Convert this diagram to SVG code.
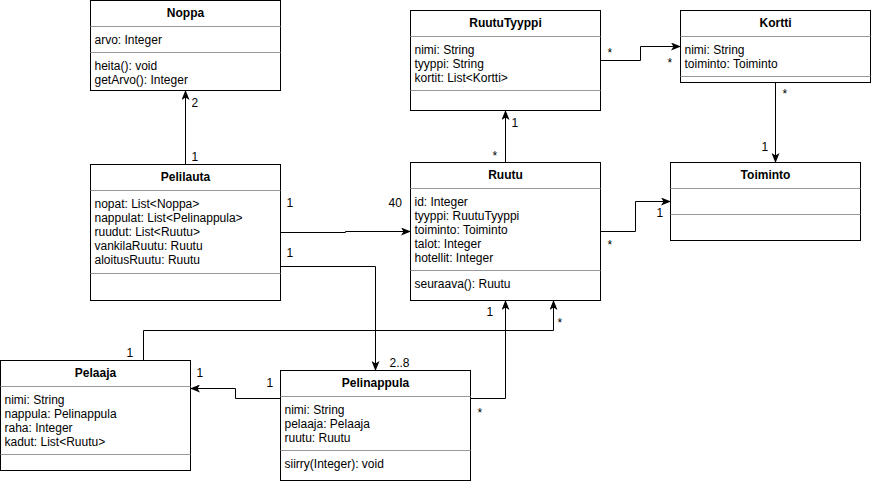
<svg xmlns="http://www.w3.org/2000/svg" width="871" height="481" viewBox="0 0 871 481">
<defs>
<style>
.box{fill:#fff;stroke:#000;stroke-width:1}
.div{stroke:#999;stroke-width:1}
.t{font-family:"Liberation Sans",Arial,sans-serif;font-size:12px;fill:#000}
.h{font-family:"Liberation Sans",Arial,sans-serif;font-size:12px;font-weight:bold;fill:#000;text-anchor:middle}
.c{fill:none;stroke:#000;stroke-width:1}
</style>
<marker id="arr" markerUnits="userSpaceOnUse" markerWidth="10" markerHeight="8" viewBox="0 0 10 8" refX="9.5" refY="4" orient="auto">
<path d="M0,0 L10,4 L0,8 L2.5,4 Z" fill="#000"/>
</marker>
</defs>
<rect width="871" height="481" fill="#fff"/>
<g transform="translate(0.5,0.5)">
<g id="Noppa">
<rect class="box" x="90" y="0" width="190" height="90"/>
<line class="div" x1="90" y1="26" x2="280" y2="26"/>
<line class="div" x1="90" y1="52" x2="280" y2="52"/>
<text class="h" x="185" y="16">Noppa</text>
<text class="t" x="94" y="43">arvo: Integer</text>
<text class="t" x="94" y="69.5">heita(): void</text>
<text class="t" x="94" y="83.5">getArvo(): Integer</text>
</g>
<g id="Pelilauta">
<rect class="box" x="90" y="164" width="190" height="136"/>
<line class="div" x1="90" y1="190" x2="280" y2="190"/>
<line class="div" x1="90" y1="273" x2="280" y2="273"/>
<text class="h" x="185" y="180">Pelilauta</text>
<text class="t" x="94" y="207">nopat: List&lt;Noppa&gt;</text>
<text class="t" x="94" y="221">nappulat: List&lt;Pelinappula&gt;</text>
<text class="t" x="94" y="235">ruudut: List&lt;Ruutu&gt;</text>
<text class="t" x="94" y="249">vankilaRuutu: Ruutu</text>
<text class="t" x="94" y="263">aloitusRuutu: Ruutu</text>
</g>
<g id="RuutuTyyppi">
<rect class="box" x="410" y="10" width="190" height="100"/>
<line class="div" x1="410" y1="36" x2="600" y2="36"/>
<line class="div" x1="410" y1="90" x2="600" y2="90"/>
<text class="h" x="505" y="26">RuutuTyyppi</text>
<text class="t" x="414" y="53">nimi: String</text>
<text class="t" x="414" y="67">tyyppi: String</text>
<text class="t" x="414" y="81">kortit: List&lt;Kortti&gt;</text>
</g>
<g id="Kortti">
<rect class="box" x="680" y="10" width="190" height="72"/>
<line class="div" x1="680" y1="36" x2="870" y2="36"/>
<line class="div" x1="680" y1="76" x2="870" y2="76"/>
<text class="h" x="775" y="26">Kortti</text>
<text class="t" x="684" y="53">nimi: String</text>
<text class="t" x="684" y="67">toiminto: Toiminto</text>
</g>
<g id="Ruutu">
<rect class="box" x="410" y="162" width="190" height="138"/>
<line class="div" x1="410" y1="188" x2="600" y2="188"/>
<line class="div" x1="410" y1="270" x2="600" y2="270"/>
<text class="h" x="505" y="178">Ruutu</text>
<text class="t" x="414" y="205">id: Integer</text>
<text class="t" x="414" y="219">tyyppi: RuutuTyyppi</text>
<text class="t" x="414" y="233">toiminto: Toiminto</text>
<text class="t" x="414" y="247">talot: Integer</text>
<text class="t" x="414" y="261">hotellit: Integer</text>
<text class="t" x="414" y="287">seuraava(): Ruutu</text>
</g>
<g id="Toiminto">
<rect class="box" x="670" y="162" width="190" height="78"/>
<line class="div" x1="670" y1="188" x2="860" y2="188"/>
<line class="div" x1="670" y1="214" x2="860" y2="214"/>
<text class="h" x="765" y="178">Toiminto</text>
</g>
<g id="Pelaaja">
<rect class="box" x="0" y="360" width="190" height="110"/>
<line class="div" x1="0" y1="386" x2="190" y2="386"/>
<line class="div" x1="0" y1="454" x2="190" y2="454"/>
<text class="h" x="95" y="376">Pelaaja</text>
<text class="t" x="4" y="403">nimi: String</text>
<text class="t" x="4" y="417">nappula: Pelinappula</text>
<text class="t" x="4" y="431">raha: Integer</text>
<text class="t" x="4" y="445">kadut: List&lt;Ruutu&gt;</text>
</g>
<g id="Pelinappula">
<rect class="box" x="280" y="370" width="190" height="110"/>
<line class="div" x1="280" y1="396" x2="470" y2="396"/>
<line class="div" x1="280" y1="450" x2="470" y2="450"/>
<text class="h" x="375" y="386">Pelinappula</text>
<text class="t" x="284" y="413">nimi: String</text>
<text class="t" x="284" y="427">pelaaja: Pelaaja</text>
<text class="t" x="284" y="441">ruutu: Ruutu</text>
<text class="t" x="284" y="467">siirry(Integer): void</text>
</g>
<g id="connectors">
<path class="c" marker-end="url(#arr)" d="M185,164 L185,90"/>
<path class="c" marker-end="url(#arr)" d="M280,232 L345,232 L345,231 L410,231"/>
<path class="c" marker-end="url(#arr)" d="M280,266 L375,266 L375,370"/>
<path class="c" marker-end="url(#arr)" d="M600,60 L640,60 L640,46 L680,46"/>
<path class="c" marker-end="url(#arr)" d="M775,82 L775,162"/>
<path class="c" marker-end="url(#arr)" d="M505,162 L505,110"/>
<path class="c" marker-end="url(#arr)" d="M600,231 L635,231 L635,201 L670,201"/>
<path class="c" marker-end="url(#arr)" d="M143,360 L143,330 L553,330 L553,300"/>
<path class="c" marker-end="url(#arr)" d="M280,398 L235,398 L235,388 L190,388"/>
<path class="c" marker-end="url(#arr)" d="M470,398 L505,398 L505,300"/>
<text class="t" x="191" y="106">2</text>
<text class="t" x="191" y="160">1</text>
<text class="t" x="286" y="206">1</text>
<text class="t" x="388" y="206">40</text>
<text class="t" x="286" y="256">1</text>
<text class="t" x="389" y="366">2..8</text>
<text class="t" x="607" y="56">*</text>
<text class="t" x="667" y="66">*</text>
<text class="t" x="782" y="97">*</text>
<text class="t" x="761" y="150">1</text>
<text class="t" x="511" y="126">1</text>
<text class="t" x="492" y="159">*</text>
<text class="t" x="607" y="248">*</text>
<text class="t" x="656" y="216">1</text>
<text class="t" x="126" y="356">1</text>
<text class="t" x="557" y="326">*</text>
<text class="t" x="486" y="315">1</text>
<text class="t" x="477" y="416">*</text>
<text class="t" x="196" y="376">1</text>
<text class="t" x="266" y="386">1</text>
</g>
</g>
</svg>
